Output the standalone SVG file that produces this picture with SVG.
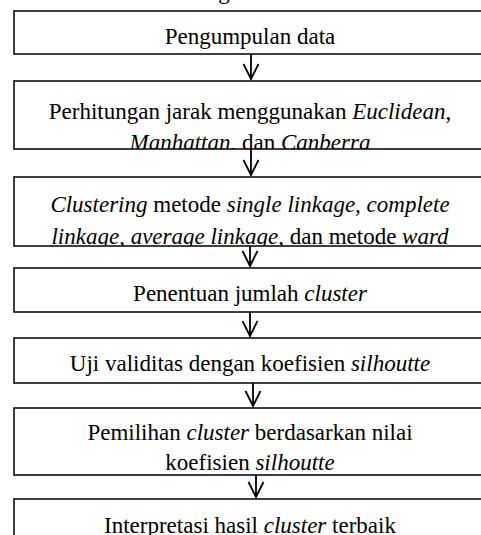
<svg xmlns="http://www.w3.org/2000/svg" width="481" height="535" viewBox="0 0 481 535">
<style>
text{font-family:"Liberation Serif","Times New Roman",serif;font-size:23px;fill:#000;text-anchor:middle}
.i{font-family:"Liberation Serif","Times New Roman",serif;font-style:italic}
.box{fill:#fff;stroke:#000;stroke-width:1.5}
.arr{stroke:#000;stroke-width:1.8;fill:none}
</style>
<defs>
<marker id="ah" viewBox="-16 -10 18 20" markerWidth="18" markerHeight="20" refX="0" refY="0" orient="auto" markerUnits="userSpaceOnUse" overflow="visible">
<path d="M-15,-7.5 L0,0 L-15,7.5" fill="none" stroke="#000" stroke-width="1.8"/>
</marker>
<clipPath id="c1"><rect x="14" y="11" width="472" height="43"/></clipPath>
<clipPath id="c2"><rect x="14" y="81" width="472" height="68"/></clipPath>
<clipPath id="c3"><rect x="14" y="177" width="472" height="69"/></clipPath>
<clipPath id="c4"><rect x="14" y="268" width="472" height="44"/></clipPath>
<clipPath id="c5"><rect x="14" y="338" width="472" height="45"/></clipPath>
<clipPath id="c6"><rect x="14" y="408" width="472" height="67"/></clipPath>
<clipPath id="c7"><rect x="14" y="499" width="472" height="46"/></clipPath>
</defs>
<text x="224" y="-1">g</text>
<g id="connectors">
<line class="arr" x1="251" y1="54" x2="251" y2="79" marker-end="url(#ah)"/>
<line class="arr" x1="251" y1="149" x2="251" y2="175" marker-end="url(#ah)"/>
<line class="arr" x1="250" y1="246" x2="250" y2="266" marker-end="url(#ah)"/>
<line class="arr" x1="250" y1="312" x2="250" y2="336" marker-end="url(#ah)"/>
<line class="arr" x1="253" y1="383" x2="253" y2="406" marker-end="url(#ah)"/>
<line class="arr" x1="256" y1="475" x2="256" y2="497" marker-end="url(#ah)"/>
</g>
<g id="n1"><rect class="box" x="14" y="11" width="472" height="43"/>
<text x="250" y="44" clip-path="url(#c1)">Pengumpulan data</text></g>
<g id="n2"><rect class="box" x="14" y="81" width="472" height="68"/>
<g clip-path="url(#c2)"><text x="250" y="119">Perhitungan jarak menggunakan <tspan class="i">Euclidean</tspan>,</text>
<text x="250" y="150"><tspan class="i">Manhattan</tspan>, dan <tspan class="i">Canberra</tspan></text></g></g>
<g id="n3"><rect class="box" x="14" y="177" width="472" height="69"/>
<g clip-path="url(#c3)"><text x="250" y="212"><tspan class="i">Clustering</tspan> metode <tspan class="i">single linkage, complete</tspan></text>
<text x="250" y="244"><tspan class="i">linkage, average linkage</tspan>, dan metode <tspan class="i">ward</tspan></text></g></g>
<g id="n4"><rect class="box" x="14" y="268" width="472" height="44"/>
<text x="250" y="301" clip-path="url(#c4)">Penentuan jumlah <tspan class="i">cluster</tspan></text></g>
<g id="n5"><rect class="box" x="14" y="338" width="472" height="45"/>
<text x="250" y="371" clip-path="url(#c5)">Uji validitas dengan koefisien <tspan class="i">silhoutte</tspan></text></g>
<g id="n6"><rect class="box" x="14" y="408" width="472" height="67"/>
<g clip-path="url(#c6)"><text x="250" y="440">Pemilihan <tspan class="i">cluster</tspan> berdasarkan nilai</text>
<text x="250" y="470">koefisien <tspan class="i">silhoutte</tspan></text></g></g>
<g id="n7"><rect class="box" x="14" y="499" width="472" height="46"/>
<text x="250" y="533" clip-path="url(#c7)">Interpretasi hasil <tspan class="i">cluster</tspan> terbaik</text></g>
</svg>
